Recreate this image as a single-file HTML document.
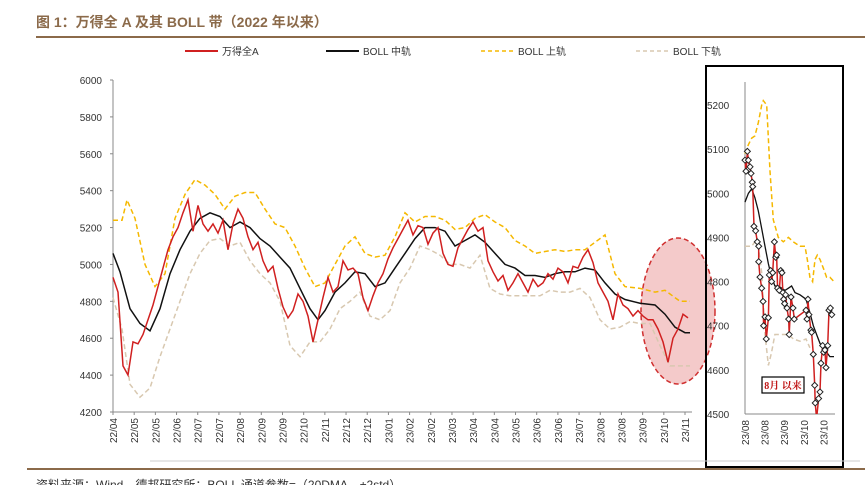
<!DOCTYPE html>
<html><head><meta charset="utf-8">
<style>
body{margin:0;background:#fff;width:865px;height:485px;overflow:hidden;font-family:"Liberation Sans","Noto Sans CJK SC",sans-serif;}
svg{position:absolute;left:0;top:0;}
</style></head>
<body>
<svg id="chart" width="865" height="485" viewBox="0 0 865 485">
<text x="36" y="27" font-size="14" font-weight="bold" fill="#8B6A4A" font-family="Liberation Sans,Noto Sans CJK SC,sans-serif">图 1：万得全 A 及其 BOLL 带（2022 年以来）</text>
<line x1="36" y1="37" x2="865" y2="37" stroke="#8B6A4A" stroke-width="2"/>
<g font-size="10" fill="#333">
<g><line x1="185" y1="51" x2="218" y2="51" stroke="#d02020" stroke-width="2"/><text x="222" y="55">万得全A</text></g>
<g><line x1="326" y1="51" x2="359" y2="51" stroke="#111" stroke-width="2"/><text x="363" y="55">BOLL 中轨</text></g>
<g><line x1="481" y1="51" x2="513" y2="51" stroke="#f5b800" stroke-width="1.5" stroke-dasharray="4,3"/><text x="518" y="55">BOLL 上轨</text></g>
<g><line x1="636" y1="51" x2="668" y2="51" stroke="#d8c8b0" stroke-width="1.5" stroke-dasharray="4,3"/><text x="673" y="55">BOLL 下轨</text></g>
</g>
<ellipse cx="678" cy="311" rx="37" ry="73" fill="#f0b8b8" fill-opacity="0.75" stroke="#d03030" stroke-width="1.5" stroke-dasharray="5,3"/>
<g id="main"></g>
<rect x="706" y="66" width="137" height="401" fill="none" stroke="#000" stroke-width="2"/>
<g id="inset"></g>
<rect x="762" y="377" width="42" height="16" fill="#fff" stroke="#000" stroke-width="1.2"/>
<text x="783" y="389" font-size="10" font-weight="bold" fill="#c01818" text-anchor="middle" font-family="Liberation Serif,Noto Serif CJK SC,serif">8月 以来</text>
<line x1="150" y1="461" x2="860" y2="461" stroke="#ccc" stroke-width="1"/>
<line x1="27" y1="469" x2="865" y2="469" stroke="#8B6A4A" stroke-width="2"/>
<text x="36" y="489" font-size="12" fill="#333">资料来源：Wind，德邦研究所；BOLL 通道参数=（20DMA，±2std）</text>
</svg>
<script>
// ===== main chart data =====
const xLabels=["22/04","22/05","22/05","22/06","22/07","22/07","22/08","22/09","22/09","22/10","22/11","22/12","22/12","23/01","23/02","23/02","23/03","23/04","23/04","23/05","23/06","23/06","23/07","23/08","23/08","23/09","23/10","23/11"];
const yTicks=[4200,4400,4600,4800,5000,5200,5400,5600,5800,6000];
const windA=[4930,4850,4450,4400,4580,4570,4620,4700,4780,4880,4980,5080,5150,5200,5280,5350,5180,5320,5220,5180,5220,5170,5240,5080,5220,5300,5250,5150,5080,5120,5020,4960,4990,4870,4770,4710,4750,4840,4800,4720,4580,4700,4820,4930,4850,4880,5020,4970,4980,4950,4820,4750,4830,4900,4950,5030,5090,5140,5190,5240,5160,5210,5200,5110,5170,5200,5060,5000,4990,5090,5140,5190,5230,5180,5200,5020,4960,4910,4940,4860,4900,4950,4900,4850,4920,4880,4900,4950,4920,4980,4960,4900,4990,4980,5040,5080,5010,4900,4850,4800,4700,4840,4780,4760,4720,4750,4720,4700,4700,4650,4580,4470,4600,4650,4730,4710];
const midDays=[0,1.4,3.4,5.4,7.4,9.4,11.4,13.4,15.4,17.4,19.4,21.4,23.4,25.4,27.4,29.4,31.4,33.4,35.4,37.4,39.4,41,42.4,44.4,46.4,48.4,50.4,52.4,54.4,56.4,58.4,60.4,62.4,64.4,66.4,68.4,70.4,72.4,74.4,76.4,78.4,80.4,82.4,84.4,86.4,88.4,90.4,92.4,94.4,96.4,98.4,100.4,102.4,105.4,108.4,110.4,112.4,114.4,115.4];
const midVals=[5060,4960,4760,4680,4640,4760,4950,5080,5180,5250,5280,5260,5200,5230,5200,5140,5100,5040,4980,4870,4760,4700,4750,4850,4900,4960,4950,4880,4900,4980,5060,5140,5200,5200,5180,5100,5130,5160,5120,5060,5000,4980,4940,4940,4930,4950,4960,4960,4980,4970,4900,4840,4810,4790,4780,4730,4660,4630,4630];
const upDays=[0,1.8,2.8,4.4,6.4,8.4,10.4,12.4,14.4,16.4,18.4,20.4,22.4,24.4,26.4,28.4,30.4,32.4,34.4,36.4,38.4,40.4,42.4,44.4,46.4,48.4,50.4,52.4,54.4,56.4,58.4,60.4,62.4,64.4,66.4,68.4,70.4,72.4,74.4,76.4,78.4,80.4,82.4,84.4,86.4,88.4,90.4,92.4,94.4,96.4,98.4,100.4,102.4,105.4,108.4,110.4,113.4,115.4];
const upVals=[5240,5240,5350,5250,5000,4880,4950,5250,5380,5460,5430,5380,5300,5370,5390,5390,5300,5220,5200,5100,4980,4880,4900,5000,5100,5150,5060,5040,5050,5150,5280,5230,5260,5260,5240,5190,5200,5250,5270,5230,5200,5130,5100,5060,5070,5080,5070,5080,5080,5120,5160,4950,4880,4870,4850,4860,4800,4800];
const lowDays=[0,1.8,3.4,5.4,7.4,9.4,11.4,13.4,15.4,17.4,19.4,21.4,23.4,25.4,27.4,29.4,31.4,33.4,35.4,37.4,39.4,41.4,43.4,45.4,47.4,49.4,51.4,53.4,55.4,57.4,59.4,61.4,63.4,65.4,67.4,69.4,71.4,73.4,75.4,77.4,79.4,81.4,83.4,85.4,87.4,89.4,91.4,93.4,95.4,97.4,99.4,101.4,103.4,105.4,107.4,109.4,111.4,113.4,115.4];
const lowVals=[4820,4650,4350,4280,4330,4500,4650,4800,4950,5060,5130,5140,5100,5120,5020,4950,4900,4800,4560,4500,4580,4580,4650,4760,4800,4850,4720,4700,4750,4900,4980,5100,5080,5050,5000,5000,4980,5050,4870,4840,4830,4830,4830,4830,4860,4850,4850,4870,4820,4700,4650,4660,4690,4680,4680,4560,4450,4450,4450];
// ===== inset data =====
const insetXLabels=["23/08","23/08","23/09","23/10","23/10"];
const insetYTicks=[4500,4600,4700,4800,4900,5000,5100,5200];
const insetDays=[0,0.7,1.7,2.4,3.6,4.3,5.2,5.5,6.4,7.6,8.8,9.8,9.8,10.7,11.9,12.9,13.3,14.3,15.2,16.7,17.4,18.3,19,19.8,21,22,22.6,23.3,24.5,25.5,26.4,27.1,27.6,28.3,29,30,31.2,31.6,32.9,34.3,35.2,43.6,44.3,45,45.7,47.1,47.6,48.8,49.8,50.2,51.2,52.6,53.6,54.3,55.5,56.2,57.1,57.9,59.1,60,61,62],
insetVals=[5075,5050,5095,5075,5060,5045,5025,5015,4925,4915,4890,4880,4845,4810,4785,4755,4700,4720,4670,4718,4815,4825,4800,4820,4890,4855,4860,4785,4780,4825,4820,4775,4760,4750,4770,4740,4715,4680,4765,4740,4715,4735,4715,4760,4725,4690,4685,4635,4565,4525,4490,4535,4550,4615,4655,4640,4645,4605,4655,4735,4740,4725];
const insetMidDays=[0,2.4,4.8,7.1,9.5,11.9,14.3,16.7,19,21.4,23.8,26.2,28.6,31,33.3,35.7,39.3,43.6,46.4,48.8,51.2,53.6,56,58.3,60.7,63.6];
const insetMidVals=[4980,5000,5010,4990,4960,4920,4880,4840,4810,4790,4790,4785,4780,4785,4790,4775,4770,4760,4730,4700,4680,4660,4650,4640,4630,4630];
const insetUpDays=[0,2.4,4.8,7.1,9.5,11.9,13.1,15.5,17.9,20.2,23.8,27.4,31,34.5,39.3,42.9,44.5,46.4,48.3,50,51.7,53.6,56,58.3,60.7,63.6];
const insetUpVals=[5090,5110,5125,5130,5160,5200,5210,5200,5050,4940,4900,4890,4900,4890,4880,4880,4850,4810,4800,4850,4860,4850,4830,4810,4810,4800];
const insetLowDays=[0,2.4,4.8,7.1,9.5,11.9,14.3,16.7,19,21.4,25,28.6,31,34.5,39.3,43.6,46.4];
const insetLowVals=[4880,4880,4880,4890,4880,4820,4680,4610,4640,4680,4680,4680,4680,4670,4665,4670,4650];

const NS="http://www.w3.org/2000/svg";
function mk(tag,attrs,parent){const e=document.createElementNS(NS,tag);for(const k in attrs)e.setAttribute(k,attrs[k]);parent.appendChild(e);return e;}

// main axes
const M={x0:113,x1:688,y0:412,y1:80,vmin:4200,vmax:6000,dmax:115};
const mx=d=>M.x0+(d/M.dmax)*(M.x1-M.x0);
const my=v=>M.y0-(v-M.vmin)/(M.vmax-M.vmin)*(M.y0-M.y1);
const main=document.getElementById('main');
let ax=mk('line',{x1:M.x0,y1:M.y1,x2:M.x0,y2:M.y0,stroke:'#888'},main);


ax=mk('line',{x1:M.x0,y1:M.y0,x2:692,y2:M.y0,stroke:'#888'},main);


yTicks.forEach(v=>{
  const t=mk('text',{x:M.x0-11,y:my(v)+4,'font-size':10,'text-anchor':'end',fill:'#333'},main);
  t.textContent=v;
  
  
  mk('line',{x1:M.x0-3,y1:my(v),x2:M.x0,y2:my(v),stroke:'#888'},main);
});
xLabels.forEach((l,i)=>{
  const x=M.x0+i*(685-M.x0)/(xLabels.length-1);
  mk('line',{x1:x,y1:M.y0,x2:x,y2:M.y0+3,stroke:'#888'},main);
  const t=mk('text',{x:0,y:0,'font-size':10,'text-anchor':'end',fill:'#333',transform:`translate(${x+4},${M.y0+6}) rotate(-90)`},main);
  t.textContent=l;
  
  
});
function path(days,vals,fx,fy,attrs,parent,name){
  const d=vals.map((v,i)=>(i?'L':'M')+fx(days?days[i]:i).toFixed(1)+','+fy(v).toFixed(1)).join('');
  const p=mk('path',Object.assign({d:d,fill:'none'},attrs),parent);
  
  
  return p;
}
path(lowDays,lowVals,mx,my,{stroke:'#d8c8b0','stroke-width':1.5,'stroke-dasharray':'5,3'},main,'boll-lower-line');
path(upDays,upVals,mx,my,{stroke:'#f5b800','stroke-width':1.5,'stroke-dasharray':'5,3'},main,'boll-upper-line');
path(midDays,midVals,mx,my,{stroke:'#111','stroke-width':1.5},main,'boll-mid-line');
path(null,windA,mx,my,{stroke:'#d02020','stroke-width':1.5},main,'wind-a-line');

// inset
const I={x0:745,x1:834,y0:414,vmin:4500,vmax:5200,y1:105,dmax:63.6};
const ix=d=>I.x0+(d/I.dmax)*(I.x1-I.x0);
const iy=v=>I.y0-(v-I.vmin)/(I.vmax-I.vmin)*(I.y0-I.y1);
const ins=document.getElementById('inset');
const clip=mk('clipPath',{id:'ic'},ins);mk('rect',{x:740,y:80,width:100,height:334},clip);
ax=mk('line',{x1:I.x0,y1:82,x2:I.x0,y2:I.y0,stroke:'#888'},ins);


ax=mk('line',{x1:I.x0,y1:I.y0,x2:835,y2:I.y0,stroke:'#888'},ins);


insetYTicks.forEach(v=>{
  const t=mk('text',{x:707,y:iy(v)+4,'font-size':10,fill:'#333'},ins);
  t.textContent=v;
  
  
});
insetXLabels.forEach((l,i)=>{
  const x=I.x0+i*19.6;
  const t=mk('text',{x:0,y:0,'font-size':10,'text-anchor':'end',fill:'#333',transform:`translate(${x+4},${I.y0+6}) rotate(-90)`},ins);
  t.textContent=l;
  
  
});
const ig=mk('g',{'clip-path':'url(#ic)'},ins);
path(insetLowDays,insetLowVals,ix,iy,{stroke:'#d8c8b0','stroke-width':1.5,'stroke-dasharray':'5,3'},ig,'inset-boll-lower-line');
path(insetUpDays,insetUpVals,ix,iy,{stroke:'#f5b800','stroke-width':1.5,'stroke-dasharray':'5,3'},ig,'inset-boll-upper-line');
path(insetMidDays,insetMidVals,ix,iy,{stroke:'#111','stroke-width':1.3},ig,'inset-boll-mid-line');
path(insetDays,insetVals,ix,iy,{stroke:'#d02020','stroke-width':1.5},ig,'inset-wind-a-line');
insetVals.forEach((v,i)=>{
  const x=ix(insetDays[i]),y=iy(v);
  const m=mk('path',{d:`M${x},${y-3}L${x+3},${y}L${x},${y+3}L${x-3},${y}Z`,fill:'#fff',stroke:'#222','stroke-width':1},ig);
  
  
});
</script>
</body></html>
